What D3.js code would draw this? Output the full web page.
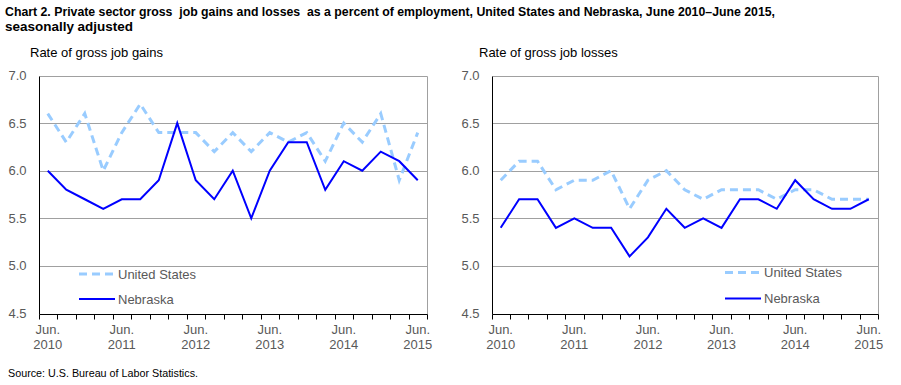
<!DOCTYPE html>
<html><head><meta charset="utf-8">
<script src="https://cdn.jsdelivr.net/npm/d3@7"></script>
<style>body{margin:0;background:#fff}svg{display:block}text{font-family:"Liberation Sans",Arial,sans-serif}</style>
</head><body>
<svg id="c" width="901" height="385"></svg>
<script>
const periods = ["Jun. 2010","Sep. 2010","Dec. 2010","Mar. 2011","Jun. 2011","Sep. 2011","Dec. 2011","Mar. 2012","Jun. 2012","Sep. 2012","Dec. 2012","Mar. 2013","Jun. 2013","Sep. 2013","Dec. 2013","Mar. 2014","Jun. 2014","Sep. 2014","Dec. 2014","Mar. 2015","Jun. 2015"];
const labeledPeriods = ["Jun. 2010","Jun. 2011","Jun. 2012","Jun. 2013","Jun. 2014","Jun. 2015"];
const yTicks = [4.5,5.0,5.5,6.0,6.5,7.0];
const seriesNames = ["United States","Nebraska"];
const gainsUS = [6.6,6.3,6.6,6.0,6.4,6.7,6.4,6.4,6.4,6.2,6.4,6.2,6.4,6.3,6.4,6.1,6.5,6.3,6.6,5.9,6.4];
const gainsNE = [6.0,5.8,5.7,5.6,5.7,5.7,5.9,6.5,5.9,5.7,6.0,5.5,6.0,6.3,6.3,5.8,6.1,6.0,6.2,6.1,5.9];
const lossesUS = [5.9,6.1,6.1,5.8,5.9,5.9,6.0,5.6,5.9,6.0,5.8,5.7,5.8,5.8,5.8,5.7,5.8,5.8,5.7,5.7,5.7];
const lossesNE = [5.4,5.7,5.7,5.4,5.5,5.4,5.4,5.1,5.3,5.6,5.4,5.5,5.4,5.7,5.7,5.6,5.9,5.7,5.6,5.6,5.7];

const svg = d3.select("#c");
svg.append("rect").attr("width",901).attr("height",385).attr("fill","#fff");

svg.append("text").attr("x",5).attr("y",16).attr("font-size",12.5).attr("font-weight","bold").attr("fill","#000")
  .style("white-space","pre")
  .attr("textLength",770).attr("lengthAdjust","spacingAndGlyphs")
  .text("Chart 2. Private sector gross  job gains and losses  as a percent of employment, United States and Nebraska, June 2010\u2013June 2015,");
svg.append("text").attr("x",5).attr("y",31).attr("font-size",12.5).attr("font-weight","bold").attr("fill","#000")
  .attr("textLength",128).attr("lengthAdjust","spacingAndGlyphs")
  .text("seasonally adjusted");
svg.append("text").attr("x",8).attr("y",377).attr("font-size",11).attr("fill","#000")
  .attr("textLength",190).attr("lengthAdjust","spacingAndGlyphs")
  .text("Source: U.S. Bureau of Labor Statistics.");

const yTop = 75.5, yBot = 313.5;

function panel(cfg){
  const g = svg.append("g");
  const x = d3.scaleBand().domain(periods).range([cfg.x0, cfg.x1]);
  const y = d3.scaleLinear().domain([4.5,7]).range([yBot, yTop]);
  const py = v => Math.round(y(v)) + 0.5;
  const left = Math.round(cfg.x0)+0.5, right = Math.round(cfg.x1)+0.5;

  g.append("text").attr("x",cfg.titleX).attr("y",57).attr("font-size",13).attr("fill","#000").text(cfg.title);

  yTicks.filter(v => v>4.5 && v<7).forEach(v=>{
    g.append("line").attr("x1",left).attr("x2",right).attr("y1",py(v)).attr("y2",py(v))
      .attr("stroke","#a0a0a0").attr("stroke-width",1);
  });
  g.append("line").attr("x1",left).attr("x2",right).attr("y1",py(7)).attr("y2",py(7)).attr("stroke","#a0a0a0");
  g.append("line").attr("x1",right).attr("x2",right).attr("y1",py(7)).attr("y2",py(4.5)).attr("stroke","#a0a0a0");

  yTicks.forEach(v=>{
    g.append("text").attr("x",cfg.x0-12).attr("y",y(v)+4.5).attr("text-anchor","end")
      .attr("font-size",13).attr("fill","#595959").text(d3.format(".1f")(v));
  });

  const edges = periods.map(p=>x(p)).concat([cfg.x1]);
  edges.forEach(e=>{
    const xx = Math.round(e)+0.5;
    g.append("line").attr("x1",xx).attr("x2",xx).attr("y1",py(4.5)).attr("y2",py(4.5)+5).attr("stroke","#000");
  });
  labeledPeriods.forEach(p=>{
    const cx = x(p)+x.bandwidth()/2;
    const parts = p.split(" ");
    g.append("text").attr("x",cx).attr("y",333.5).attr("text-anchor","middle").attr("font-size",13).attr("fill","#595959").text(parts[0]);
    g.append("text").attr("x",cx).attr("y",348.5).attr("text-anchor","middle").attr("font-size",13).attr("fill","#595959").text(parts[1]);
  });

  g.append("line").attr("x1",left).attr("x2",left).attr("y1",py(7)).attr("y2",py(4.5)).attr("stroke","#000");
  g.append("line").attr("x1",left).attr("x2",right).attr("y1",py(4.5)).attr("y2",py(4.5)).attr("stroke","#000");

  const line = d3.line().x((d,i)=>x(periods[i])+x.bandwidth()/2).y(d=>y(d));
  g.append("path").datum(cfg.us).attr("d",line).attr("fill","none").attr("stroke","#99ccff")
    .attr("stroke-width",3).attr("stroke-dasharray","8,5");
  g.append("path").datum(cfg.ne).attr("d",line).attr("fill","none").attr("stroke","#0000ff")
    .attr("stroke-width",2).attr("stroke-linejoin","miter");

  const L = cfg.legend;
  g.append("line").attr("x1",L.x).attr("x2",L.x+34).attr("y1",L.y1).attr("y2",L.y1)
    .attr("stroke","#99ccff").attr("stroke-width",3).attr("stroke-dasharray","8,5");
  g.append("text").attr("x",L.x+39).attr("y",L.y1+4.5).attr("font-size",13).attr("fill","#595959").text(seriesNames[0]);
  g.append("line").attr("x1",L.x).attr("x2",L.x+36).attr("y1",L.y2).attr("y2",L.y2)
    .attr("stroke","#0000ff").attr("stroke-width",2);
  g.append("text").attr("x",L.x+39).attr("y",L.y2+4.5).attr("font-size",13).attr("fill","#595959").text(seriesNames[1]);
}

panel({x0:38.5, x1:427, title:"Rate of gross job gains", titleX:30, us:gainsUS, ne:gainsNE, legend:{x:79, y1:274, y2:299}});
panel({x0:491.5, x1:878, title:"Rate of gross job losses", titleX:479, us:lossesUS, ne:lossesNE, legend:{x:725, y1:272.5, y2:298.5}});
</script>
</body></html>
